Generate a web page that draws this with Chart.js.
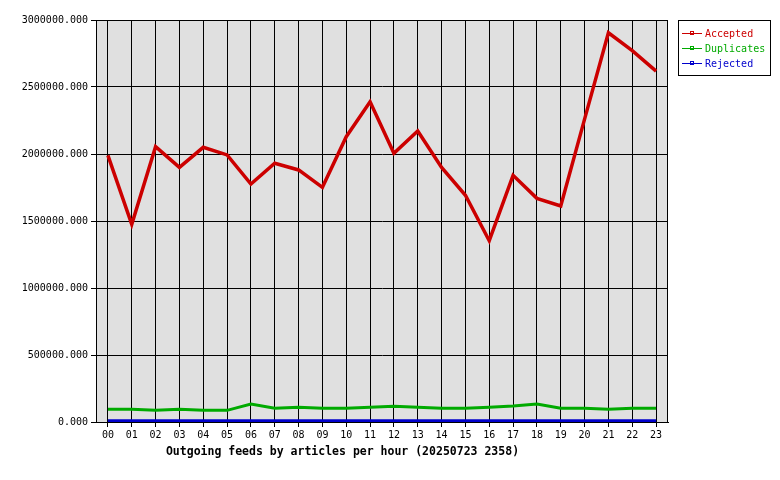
<!DOCTYPE html>
<html>
<head>
<meta charset="utf-8">
<script src="https://cdn.jsdelivr.net/npm/chart.js@4/dist/chart.umd.min.js"></script>
<style>
  body { margin: 0; background: #fff; }
  canvas { display: block; }
</style>
</head>
<body>
<canvas id="feedChart" width="780" height="480"></canvas>
<script>
const hours = ["00","01","02","03","04","05","06","07","08","09","10","11",
               "12","13","14","15","16","17","18","19","20","21","22","23"];
const accepted = [1990000, 1475000, 2055000, 1900000, 2050000, 1993000, 1776000, 1931000,
                  1881000, 1751000, 2129000, 2390000, 2005000, 2172000, 1900000, 1692000,
                  1353000, 1841000, 1669000, 1612000, 2260000, 2905000, 2771000, 2619000];
const duplicates = [95000, 95000, 87000, 95000, 87000, 87000, 134000, 102000,
                    110000, 102000, 102000, 110000, 117000, 110000, 102000, 102000,
                    110000, 119000, 134000, 102000, 102000, 95000, 102000, 102000];
const rejected = [10000, 10000, 10000, 10000, 10000, 10000, 10000, 10000,
                  10000, 10000, 10000, 10000, 10000, 10000, 10000, 10000,
                  10000, 10000, 10000, 10000, 10000, 10000, 10000, 10000];
const yTicks = [0, 500000, 1000000, 1500000, 2000000, 2500000, 3000000];
const chartTitle = "Outgoing feeds by articles per hour (20250723 2358)";

const mono = "'DejaVu Sans Mono', monospace";

// gray plot background and frame
const plotFrame = {
  id: "plotFrame",
  beforeDraw(chart) {
    const { ctx, chartArea: a } = chart;
    ctx.save();
    ctx.fillStyle = "#e0e0e0";
    ctx.fillRect(a.left, a.top, a.right - a.left, a.bottom - a.top);
    ctx.restore();
  },
  beforeDatasetsDraw(chart) {
    const { ctx, chartArea: a } = chart;
    ctx.save();
    ctx.strokeStyle = "#000";
    ctx.lineWidth = 1;
    ctx.strokeRect(a.left + 0.5, a.top + 0.5, a.right - a.left - 1, a.bottom - a.top);
    ctx.restore();
  }
};

// boxed legend top right, plus the caption under the axis
const boxLegend = {
  id: "boxLegend",
  afterDraw(chart) {
    const ctx = chart.ctx;
    ctx.save();
    ctx.fillStyle = "#fff";
    ctx.fillRect(678.5, 20.5, 92, 55);
    ctx.strokeStyle = "#000";
    ctx.lineWidth = 1;
    ctx.strokeRect(678.5, 20.5, 92, 55);
    ctx.font = "10px " + mono;
    ctx.textBaseline = "middle";
    chart.data.datasets.forEach((ds, i) => {
      const y = 33 + i * 15;
      ctx.strokeStyle = ds.borderColor;
      ctx.beginPath();
      ctx.moveTo(682, y + 0.5);
      ctx.lineTo(702, y + 0.5);
      ctx.stroke();
      ctx.strokeRect(690.5, y - 1.5, 3, 3);
      ctx.fillStyle = ds.borderColor;
      ctx.fillText(ds.label, 705, y + 1);
    });

    ctx.fillStyle = "#000";
    ctx.font = "bold 11.5px " + mono;
    ctx.textAlign = "center";
    ctx.fillText(chartTitle, 342.5, 452);
    ctx.restore();
  }
};

new Chart(document.getElementById("feedChart"), {
  type: "line",
  data: {
    labels: hours,
    datasets: [
      { label: "Accepted", data: accepted, borderColor: "#cc0000", borderWidth: 3.5 },
      { label: "Duplicates", data: duplicates, borderColor: "#00aa00", borderWidth: 3 },
      { label: "Rejected", data: rejected, borderColor: "#0000cc", borderWidth: 3 }
    ]
  },
  options: {
    responsive: false,
    animation: false,
    devicePixelRatio: 1,
    layout: { padding: { top: 20, right: 112, left: 0, bottom: 0 } },
    elements: {
      point: { radius: 0 },
      line: { tension: 0, borderJoinStyle: "miter", fill: false }
    },
    plugins: {
      legend: { display: false },
      tooltip: { enabled: false }
    },
    scales: {
      x: {
        offset: true,
        grid: { offset: false, color: "#000", lineWidth: 1, tickLength: 5 },
        border: { color: "#000" },
        ticks: {
          color: "#000", padding: 2, maxRotation: 0, autoSkip: false,
          font: { family: mono, size: 10 }
        },
        afterFit(scale) { scale.height = 58; }
      },
      y: {
        min: 0,
        max: 3000000,
        afterBuildTicks(scale) { scale.ticks = yTicks.map(v => ({ value: v })); },
        grid: { color: "#000", lineWidth: 1, tickLength: 5 },
        border: { color: "#000" },
        ticks: {
          color: "#000", padding: 3,
          font: { family: mono, size: 10 },
          callback: v => Number(v).toFixed(3)
        },
        afterFit(scale) { scale.width = 96; }
      }
    }
  },
  plugins: [plotFrame, boxLegend]
});
</script>
</body>
</html>
